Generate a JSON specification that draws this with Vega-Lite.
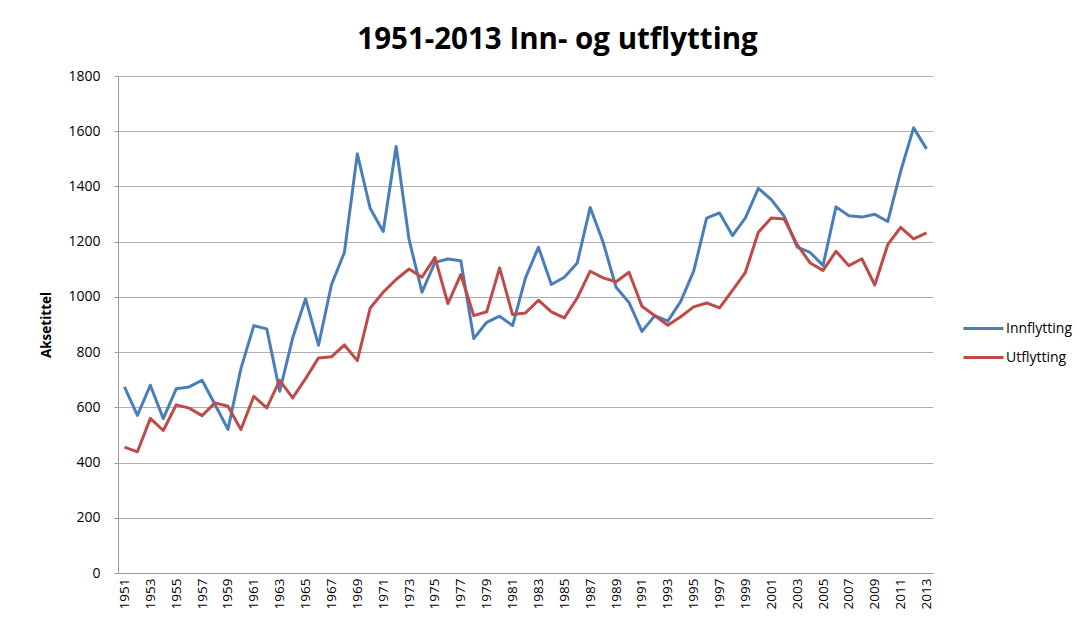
{
  "$schema": "https://vega.github.io/schema/vega-lite/v6.json",
  "width": 815,
  "height": 497,
  "autosize": {"type": "none"},
  "padding": {"left": 118, "top": 76, "right": 158, "bottom": 47},
  "background": "white",
  "config": {
    "font": "Open Sans",
    "view": {"stroke": null}
  },
  "title": {
    "text": "1951-2013 Inn- og utflytting",
    "font": "Open Sans",
    "fontSize": 29.5,
    "fontWeight": "bold",
    "color": "#000000",
    "anchor": "middle",
    "dx": 32,
    "dy": 34,
    "baseline": "alphabetic",
    "offset": 25
  },
  "data": {
    "values": [
      {"year": 1951, "series": "Innflytting", "value": 674},
      {"year": 1952, "series": "Innflytting", "value": 571},
      {"year": 1953, "series": "Innflytting", "value": 680},
      {"year": 1954, "series": "Innflytting", "value": 559},
      {"year": 1955, "series": "Innflytting", "value": 667},
      {"year": 1956, "series": "Innflytting", "value": 674},
      {"year": 1957, "series": "Innflytting", "value": 698},
      {"year": 1958, "series": "Innflytting", "value": 610},
      {"year": 1959, "series": "Innflytting", "value": 520},
      {"year": 1960, "series": "Innflytting", "value": 740},
      {"year": 1961, "series": "Innflytting", "value": 896},
      {"year": 1962, "series": "Innflytting", "value": 884},
      {"year": 1963, "series": "Innflytting", "value": 658},
      {"year": 1964, "series": "Innflytting", "value": 851},
      {"year": 1965, "series": "Innflytting", "value": 993},
      {"year": 1966, "series": "Innflytting", "value": 825},
      {"year": 1967, "series": "Innflytting", "value": 1044},
      {"year": 1968, "series": "Innflytting", "value": 1161},
      {"year": 1969, "series": "Innflytting", "value": 1518},
      {"year": 1970, "series": "Innflytting", "value": 1320},
      {"year": 1971, "series": "Innflytting", "value": 1237},
      {"year": 1972, "series": "Innflytting", "value": 1545},
      {"year": 1973, "series": "Innflytting", "value": 1207},
      {"year": 1974, "series": "Innflytting", "value": 1017},
      {"year": 1975, "series": "Innflytting", "value": 1125},
      {"year": 1976, "series": "Innflytting", "value": 1137},
      {"year": 1977, "series": "Innflytting", "value": 1131},
      {"year": 1978, "series": "Innflytting", "value": 849},
      {"year": 1979, "series": "Innflytting", "value": 908},
      {"year": 1980, "series": "Innflytting", "value": 930},
      {"year": 1981, "series": "Innflytting", "value": 896},
      {"year": 1982, "series": "Innflytting", "value": 1069},
      {"year": 1983, "series": "Innflytting", "value": 1180},
      {"year": 1984, "series": "Innflytting", "value": 1045},
      {"year": 1985, "series": "Innflytting", "value": 1071},
      {"year": 1986, "series": "Innflytting", "value": 1123},
      {"year": 1987, "series": "Innflytting", "value": 1324},
      {"year": 1988, "series": "Innflytting", "value": 1198},
      {"year": 1989, "series": "Innflytting", "value": 1035},
      {"year": 1990, "series": "Innflytting", "value": 980},
      {"year": 1991, "series": "Innflytting", "value": 875},
      {"year": 1992, "series": "Innflytting", "value": 932},
      {"year": 1993, "series": "Innflytting", "value": 912},
      {"year": 1994, "series": "Innflytting", "value": 984},
      {"year": 1995, "series": "Innflytting", "value": 1093},
      {"year": 1996, "series": "Innflytting", "value": 1285},
      {"year": 1997, "series": "Innflytting", "value": 1304},
      {"year": 1998, "series": "Innflytting", "value": 1222},
      {"year": 1999, "series": "Innflytting", "value": 1286},
      {"year": 2000, "series": "Innflytting", "value": 1393},
      {"year": 2001, "series": "Innflytting", "value": 1352},
      {"year": 2002, "series": "Innflytting", "value": 1292},
      {"year": 2003, "series": "Innflytting", "value": 1180},
      {"year": 2004, "series": "Innflytting", "value": 1161},
      {"year": 2005, "series": "Innflytting", "value": 1114},
      {"year": 2006, "series": "Innflytting", "value": 1326},
      {"year": 2007, "series": "Innflytting", "value": 1294},
      {"year": 2008, "series": "Innflytting", "value": 1289},
      {"year": 2009, "series": "Innflytting", "value": 1299},
      {"year": 2010, "series": "Innflytting", "value": 1273},
      {"year": 2011, "series": "Innflytting", "value": 1455},
      {"year": 2012, "series": "Innflytting", "value": 1612},
      {"year": 2013, "series": "Innflytting", "value": 1536},
      {"year": 1951, "series": "Utflytting", "value": 456},
      {"year": 1952, "series": "Utflytting", "value": 439},
      {"year": 1953, "series": "Utflytting", "value": 560},
      {"year": 1954, "series": "Utflytting", "value": 516},
      {"year": 1955, "series": "Utflytting", "value": 609},
      {"year": 1956, "series": "Utflytting", "value": 597},
      {"year": 1957, "series": "Utflytting", "value": 570},
      {"year": 1958, "series": "Utflytting", "value": 616},
      {"year": 1959, "series": "Utflytting", "value": 604},
      {"year": 1960, "series": "Utflytting", "value": 520},
      {"year": 1961, "series": "Utflytting", "value": 640},
      {"year": 1962, "series": "Utflytting", "value": 598},
      {"year": 1963, "series": "Utflytting", "value": 698},
      {"year": 1964, "series": "Utflytting", "value": 634},
      {"year": 1965, "series": "Utflytting", "value": 704},
      {"year": 1966, "series": "Utflytting", "value": 779},
      {"year": 1967, "series": "Utflytting", "value": 783},
      {"year": 1968, "series": "Utflytting", "value": 826},
      {"year": 1969, "series": "Utflytting", "value": 769},
      {"year": 1970, "series": "Utflytting", "value": 960},
      {"year": 1971, "series": "Utflytting", "value": 1017},
      {"year": 1972, "series": "Utflytting", "value": 1063},
      {"year": 1973, "series": "Utflytting", "value": 1101},
      {"year": 1974, "series": "Utflytting", "value": 1071},
      {"year": 1975, "series": "Utflytting", "value": 1143},
      {"year": 1976, "series": "Utflytting", "value": 976},
      {"year": 1977, "series": "Utflytting", "value": 1081},
      {"year": 1978, "series": "Utflytting", "value": 932},
      {"year": 1979, "series": "Utflytting", "value": 946},
      {"year": 1980, "series": "Utflytting", "value": 1105},
      {"year": 1981, "series": "Utflytting", "value": 936},
      {"year": 1982, "series": "Utflytting", "value": 942},
      {"year": 1983, "series": "Utflytting", "value": 988},
      {"year": 1984, "series": "Utflytting", "value": 946},
      {"year": 1985, "series": "Utflytting", "value": 924},
      {"year": 1986, "series": "Utflytting", "value": 996},
      {"year": 1987, "series": "Utflytting", "value": 1093},
      {"year": 1988, "series": "Utflytting", "value": 1069},
      {"year": 1989, "series": "Utflytting", "value": 1055},
      {"year": 1990, "series": "Utflytting", "value": 1089},
      {"year": 1991, "series": "Utflytting", "value": 966},
      {"year": 1992, "series": "Utflytting", "value": 932},
      {"year": 1993, "series": "Utflytting", "value": 897},
      {"year": 1994, "series": "Utflytting", "value": 928},
      {"year": 1995, "series": "Utflytting", "value": 964},
      {"year": 1996, "series": "Utflytting", "value": 978},
      {"year": 1997, "series": "Utflytting", "value": 960},
      {"year": 1998, "series": "Utflytting", "value": 1024},
      {"year": 1999, "series": "Utflytting", "value": 1089},
      {"year": 2000, "series": "Utflytting", "value": 1234},
      {"year": 2001, "series": "Utflytting", "value": 1286},
      {"year": 2002, "series": "Utflytting", "value": 1282},
      {"year": 2003, "series": "Utflytting", "value": 1189},
      {"year": 2004, "series": "Utflytting", "value": 1123},
      {"year": 2005, "series": "Utflytting", "value": 1096},
      {"year": 2006, "series": "Utflytting", "value": 1165},
      {"year": 2007, "series": "Utflytting", "value": 1113},
      {"year": 2008, "series": "Utflytting", "value": 1138},
      {"year": 2009, "series": "Utflytting", "value": 1043},
      {"year": 2010, "series": "Utflytting", "value": 1189},
      {"year": 2011, "series": "Utflytting", "value": 1252},
      {"year": 2012, "series": "Utflytting", "value": 1210},
      {"year": 2013, "series": "Utflytting", "value": 1232}
    ]
  },
  "mark": {"type": "line", "strokeWidth": 3, "strokeJoin": "round"},
  "encoding": {
    "x": {
      "field": "year",
      "type": "ordinal",
      "scale": {"type": "point", "padding": 0.5},
      "axis": {
        "title": null,
        "values": [1951,1953,1955,1957,1959,1961,1963,1965,1967,1969,1971,1973,1975,1977,1979,1981,1983,1985,1987,1989,1991,1993,1995,1997,1999,2001,2003,2005,2007,2009,2011,2013],
        "labelAngle": -90,
        "labelFont": "Open Sans",
        "labelFontSize": 13.5,
        "labelColor": "#000000",
        "labelPadding": 5,
        "ticks": false,
        "domainColor": "#9a9a9a",
        "domainWidth": 1,
        "grid": false
      }
    },
    "y": {
      "field": "value",
      "type": "quantitative",
      "scale": {"domain": [0, 1800], "nice": false},
      "axis": {
        "title": "Aksetittel",
        "titleFont": "Open Sans",
        "titleFontSize": 13.5,
        "titleFontWeight": "bold",
        "titleColor": "#000000",
        "titlePadding": 14,
        "format": "d",
        "values": [0,200,400,600,800,1000,1200,1400,1600,1800],
        "labelFont": "Open Sans",
        "labelFontSize": 14,
        "labelColor": "#000000",
        "labelPadding": 14,
        "tickSize": 4,
        "tickColor": "#9a9a9a",
        "domainColor": "#9a9a9a",
        "grid": true,
        "gridColor": "#b0b0b0",
        "gridWidth": 1
      }
    },
    "color": {
      "field": "series",
      "type": "nominal",
      "scale": {"domain": ["Innflytting", "Utflytting"], "range": ["#4a7ebb", "#be4b48"]},
      "legend": {
        "title": null,
        "orient": "none",
        "legendX": 844,
        "legendY": 231,
        "symbolType": "stroke",
        "symbolSize": 1600,
        "symbolStrokeWidth": 3,
        "labelFont": "Open Sans",
        "labelFontSize": 14,
        "labelColor": "#000000",
        "labelOffset": 1,
        "rowPadding": -10
      }
    }
  }
}
